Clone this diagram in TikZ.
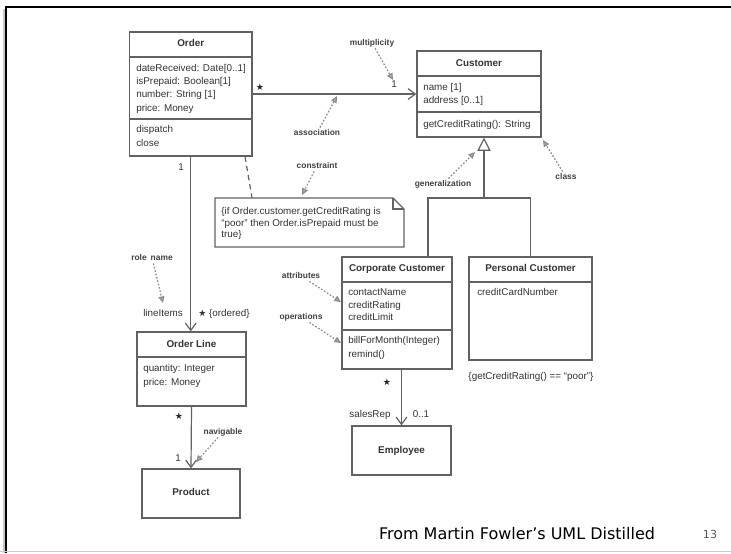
\documentclass[tikz,border=0pt]{standalone}
\usepackage{fontspec}
\setmainfont{Liberation Sans}
\newfontfamily\footfont{DejaVu Sans}
\usetikzlibrary{arrows.meta,fit,calc}
\definecolor{lc}{HTML}{626262}
\definecolor{tc}{HTML}{333333}
\definecolor{ac}{HTML}{8C8C8C}
\newcommand{\umlstar}{{\footfont\fontsize{6.8}{7}\selectfont ★}}
\begin{document}
\begin{tikzpicture}[x=0.75pt,y=-0.75pt,
  box/.style={draw=lc,line width=0.9pt,inner sep=0pt},
  txt/.style={inner sep=0pt,text=tc,font=\fontsize{7.4}{8}\selectfont,text height=5.3pt,text depth=1.5pt},
  attr/.style={txt,anchor=west},
  ttl/.style={txt,font=\fontsize{7.4}{8}\selectfont\bfseries},
  ann/.style={inner sep=1pt,text=black!75,font=\fontsize{6.3}{7}\selectfont\bfseries,text height=4.5pt,text depth=1.3pt},
  divider/.style={draw=lc,line width=0.9pt},
  assoc/.style={draw=lc,line width=0.9pt,-{Straight Barb[length=5.5pt,width=8pt,line width=0.9pt]}},
  plainline/.style={draw=lc,line width=0.9pt},
  pointer/.style={draw=ac,line width=0.9pt,dash pattern=on 1.3pt off 1.3pt,-{Triangle[length=5pt,width=4.5pt,fill=ac!70]}},
  cstr/.style={draw=lc,line width=0.9pt,dash pattern=on 4pt off 3pt},
  starl/.style={inner sep=0pt,text=black!85}
]
\useasboundingbox (0,0) rectangle (731,553);
% frame
\draw[gray!45,line width=1pt] (4,9) -- (4,553);
\draw[black,line width=1.9pt] (6.2,553) -- (6.2,7) -- (731,7);
\draw[gray!40,line width=1pt] (0,551.8) -- (731,551.8);

% ---------- Order ----------
\node[box,fit={(129.5,32) (252,156)}] (order) {};
\draw[divider] (129.5,57) -- (252,57);
\draw[divider] (129.5,119) -- (252,119);
\node[ttl] (orderT) at (190.75,44) {Order};
\node[attr] (oa1) at (136,69) {dateReceived: Date[0..1]};
\node[attr] (oa2) at (136,82) {isPrepaid: Boolean[1]};
\node[attr] (oa3) at (136,95) {number: String [1]};
\node[attr] (oa4) at (136,109) {price: Money};
\node[attr] (oo1) at (136,130) {dispatch};
\node[attr] (oo2) at (136,144) {close};

% ---------- Customer ----------
\node[box,fit={(417,51) (541,137)}] (customer) {};
\draw[divider] (417,76) -- (541,76);
\draw[divider] (417,112) -- (541,112);
\node[ttl] (custT) at (479,64) {Customer};
\node[attr] (ca1) at (423,88) {name [1]};
\node[attr] (ca2) at (423,101) {address [0..1]};
\node[attr] (co1) at (423,125) {getCreditRating(): String};

% ---------- Corporate Customer ----------
\node[box,fit={(342,257) (452,369)}] (corp) {};
\draw[divider] (342,282) -- (452,282);
\draw[divider] (342,330) -- (452,330);
\node[ttl] (corpT) at (397,269) {Corporate Customer};
\node[attr] (cc1) at (348,293) {contactName};
\node[attr] (cc2) at (348,306) {creditRating};
\node[attr] (cc3) at (348,318) {creditLimit};
\node[attr] (cc4) at (348,341) {billForMonth(Integer)};
\node[attr] (cc5) at (348,355) {remind()};

% ---------- Personal Customer ----------
\node[box,fit={(469,257) (592,360)}] (personal) {};
\draw[divider] (469,282) -- (592,282);
\node[ttl] (persT) at (530.5,269) {Personal Customer};
\node[attr] (pc1) at (477,293) {creditCardNumber};
\node[txt] (pcon) at (531,377) {\{getCreditRating() == “poor”\}};

% ---------- Order Line ----------
\node[box,fit={(137,332) (246,406)}] (orderline) {};
\draw[divider] (137,357) -- (246,357);
\node[ttl] (olT) at (191.5,345) {Order Line};
\node[attr] (ol1) at (143,369) {quantity: Integer};
\node[attr] (ol2) at (143,383) {price: Money};

% ---------- Product ----------
\node[box,fit={(142,469) (240,518)}] (product) {};
\node[ttl] (prodT) at (191,493) {Product};

% ---------- Employee ----------
\node[box,fit={(352,426) (451,475)}] (employee) {};
\node[ttl] (empT) at (401.5,451) {Employee};

% ---------- Note ----------
\node[fit={(215,198) (404,247)},inner sep=0pt] (note) {};
\draw[plainline] (215,198) -- (393,198) -- (404,209) -- (404,247) -- (215,247) -- cycle;
\draw[plainline] (393,198) -- (393,209) -- (404,209);
\node[attr] (n1) at (221,212) {\{if Order.customer.getCreditRating is};
\node[attr] (n2) at (221,223.5) {“poor” then Order.isPrepaid must be};
\node[attr] (n3) at (221,235) {true\}};

% ---------- connectors ----------
\draw[assoc] (order.east) -- (customer.west);
\node[starl] (s1) at (260,87) {\umlstar};
\node[txt] (m1) at (394,85) {1};

\draw[assoc] (order.south) -- (order.south |- orderline.north);
\node[txt] (m2) at (181,168) {1};
\node[txt] (rn) at (163,314) {lineItems};
\node[txt,anchor=west] (ord) at (198,314) {\umlstar\ \{ordered\}};

\draw[assoc] (orderline.south) -- (product.north);
\node[starl] (s3) at (179,416) {\umlstar};
\node[txt] (m3) at (178,459) {1};

\draw[assoc] (employee.north |- corp.south) -- (employee.north);
\node[starl] (s4) at (387,382) {\umlstar};
\node[txt] (sr) at (370,415) {salesRep};
\node[txt] (m4) at (421,415) {0..1};

% generalization
\coordinate (cj) at (428,198);
\coordinate (hub) at (484,198);
\draw[plainline] (corp.north -| cj) -- (cj) -- (personal.north |- cj) -- (personal.north);
\draw[plainline,-{Triangle[open,length=10pt,width=10pt,line width=0.9pt,fill=white]}] (hub) -- (customer.south -| hub);

% constraint link
\draw[cstr] ($(order.south)+(54.25,0)$) -- ($(note.north)+(-57.5,0)$);

% ---------- annotations ----------
\node[ann] (lmult) at (372,43) {multiplicity};
\coordinate (tmult) at (393,80);
\draw[pointer] (lmult) -- (tmult);

\node[ann] (lassoc) at (317,133) {association};
\coordinate (tassoc) at (337,96);
\draw[pointer] (lassoc) -- (tassoc);

\node[ann] (lcons) at (317,166) {constraint};
\coordinate (tcons) at (302,195);
\draw[pointer] (lcons) -- (tcons);

\node[ann] (lgen) at (443,184) {generalization};
\coordinate (tgen) at (475,152);
\draw[pointer] (lgen) -- (tgen);

\node[ann] (lclass) at (566,177) {class};
\coordinate (tclass) at (543,140);
\draw[pointer] (lclass) -- (tclass);

\node[ann] (lattr) at (301,276) {attributes};
\coordinate (tattr) at (341,302);
\draw[pointer] (lattr) -- (tattr);

\node[ann] (lops) at (301,317) {operations};
\coordinate (tops) at (341,343);
\draw[pointer] (lops) -- (tops);

\node[ann] (lrole) at (152,258) {role\hspace{3pt}name};
\coordinate (trole) at (163,303);
\draw[pointer] (lrole) -- (trole);

\node[ann] (lnav) at (223,432) {navigable};
\coordinate (tnav) at (196,462);
\draw[pointer] (lnav) -- (tnav);

% ---------- footer ----------
\node[inner sep=0pt,font=\footfont\fontsize{12}{14}\selectfont] (foot) at (517,534) {From Martin Fowler’s UML Distilled};
\node[inner sep=0pt,text=black!65,font=\footfont\fontsize{8.3}{10}\selectfont] (pg) at (710,534) {13};
\end{tikzpicture}
\end{document}
